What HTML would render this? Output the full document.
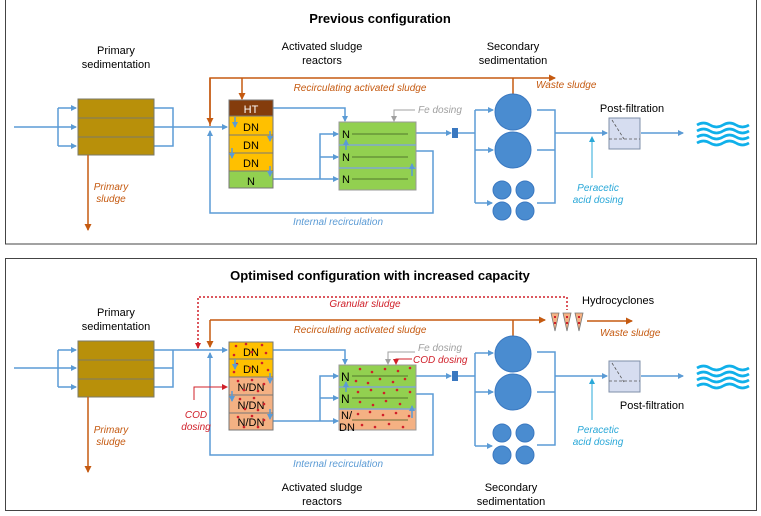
<!DOCTYPE html>
<html><head><meta charset="utf-8"><style>
html,body{margin:0;padding:0;background:#fff;}
svg{display:block;font-family:"Liberation Sans",sans-serif;}
</style></head><body>
<svg width="761" height="516" viewBox="0 0 761 516" xmlns="http://www.w3.org/2000/svg">
<defs>
<marker id="ab" markerWidth="6" markerHeight="6" refX="5" refY="3" orient="auto" markerUnits="userSpaceOnUse"><path d="M0,0 L6,3 L0,6 z" fill="#5b9bd5"/></marker>
<marker id="ao" markerWidth="7" markerHeight="7" refX="6" refY="3.5" orient="auto" markerUnits="userSpaceOnUse"><path d="M0,0 L7,3.5 L0,7 z" fill="#c55a11"/></marker>
<marker id="ar" markerWidth="6" markerHeight="6" refX="5" refY="3" orient="auto" markerUnits="userSpaceOnUse"><path d="M0,0 L6,3 L0,6 z" fill="#d0202a"/></marker>
<marker id="ag" markerWidth="6" markerHeight="6" refX="5" refY="3" orient="auto" markerUnits="userSpaceOnUse"><path d="M0,0 L6,3 L0,6 z" fill="#a0a0a0"/></marker>
<marker id="ac" markerWidth="6" markerHeight="6" refX="5" refY="3" orient="auto" markerUnits="userSpaceOnUse"><path d="M0,0 L6,3 L0,6 z" fill="#2aa8d8"/></marker>
</defs>

<rect x="5.5" y="-2" width="751" height="246" fill="none" stroke="#444" stroke-width="1"/>
<rect x="5.5" y="258.5" width="751" height="252" fill="none" stroke="#444" stroke-width="1"/>

<!-- ================= TOP PANEL ================= -->
<text x="380" y="23" font-size="13" font-weight="bold" text-anchor="middle">Previous configuration</text>
<text x="116" y="54" font-size="11" text-anchor="middle">Primary</text>
<text x="116" y="68" font-size="11" text-anchor="middle">sedimentation</text>
<text x="322" y="50" font-size="11" text-anchor="middle">Activated sludge</text>
<text x="322" y="64" font-size="11" text-anchor="middle">reactors</text>
<text x="513" y="50" font-size="11" text-anchor="middle">Secondary</text>
<text x="513" y="64" font-size="11" text-anchor="middle">sedimentation</text>

<g fill="none" stroke="#5b9bd5" stroke-width="1.5">
<path d="M14 127 H76" marker-end="url(#ab)"/>
<path d="M58 108 V146"/>
<path d="M58 108 H76" marker-end="url(#ab)"/>
<path d="M58 146 H76" marker-end="url(#ab)"/>
<path d="M154 108 H173 V146 H154"/>
<path d="M154 127 H227" marker-end="url(#ab)"/>
<path d="M273 108 H345 V121" marker-end="url(#ab)"/>
<path d="M273 179 H338" marker-end="url(#ab)"/>
<path d="M320 179 V134 H338" marker-end="url(#ab)"/>
<path d="M320 157 H338" marker-end="url(#ab)"/>
<path d="M416 133 H451" marker-end="url(#ab)"/>
<path d="M416 151 H433 V213 H210 V131" marker-end="url(#ab)"/>
<path d="M458 133 H475"/>
<path d="M475 110 V203"/>
<path d="M475 110 H493" marker-end="url(#ab)"/>
<path d="M475 150 H493" marker-end="url(#ab)"/>
<path d="M475 203 H492" marker-end="url(#ab)"/>
<path d="M537 110 H555 V203 H537"/>
<path d="M537 150 H555"/>
<path d="M555 133 H607" marker-end="url(#ab)"/>
<path d="M641 133 H683" marker-end="url(#ab)"/>
</g>
<rect x="452" y="128" width="6" height="10" fill="#3a78c0"/>

<rect x="78" y="99" width="76" height="56" fill="#b8900a" stroke="#7a7a6a"/>
<path d="M78 118 H154 M78 137 H154" stroke="#7a7a6a"/>
<path d="M88 155 V230" stroke="#c55a11" stroke-width="1.5" marker-end="url(#ao)"/>
<text x="111" y="190" font-size="10" font-style="italic" fill="#c55a11" text-anchor="middle">Primary</text>
<text x="111" y="202" font-size="10" font-style="italic" fill="#c55a11" text-anchor="middle">sludge</text>

<rect x="229" y="100" width="44" height="16" fill="#843c0c" stroke="#777"/>
<rect x="229" y="116" width="44" height="55" fill="#ffc000" stroke="#777"/>
<path d="M229 135 H273 M229 153 H273" stroke="#777"/>
<rect x="229" y="171" width="44" height="17" fill="#92d050" stroke="#777"/>
<text x="251" y="113" font-size="11" fill="#fff" text-anchor="middle">HT</text>
<text x="251" y="131" font-size="11" text-anchor="middle">DN</text>
<text x="251" y="149" font-size="11" text-anchor="middle">DN</text>
<text x="251" y="167" font-size="11" text-anchor="middle">DN</text>
<text x="251" y="185" font-size="11" text-anchor="middle">N</text>
<g stroke="#5b9bd5" stroke-width="1.5">
<path d="M235 117 V127" marker-end="url(#ab)"/>
<path d="M270 131 V141" marker-end="url(#ab)"/>
<path d="M232 148 V158" marker-end="url(#ab)"/>
<path d="M270 166 V176" marker-end="url(#ab)"/>
</g>

<rect x="339" y="122" width="77" height="68" fill="#92d050" stroke="#999"/>
<path d="M339 145 H416 M339 168 H416" stroke="#7fa7d0" stroke-width="1.5"/>
<path d="M352 134 H408 M352 157 H408 M352 179 H408" stroke="#3d5a20" stroke-width="0.7"/>
<text x="342" y="138" font-size="11">N</text>
<text x="342" y="161" font-size="11">N</text>
<text x="342" y="183" font-size="11">N</text>
<path d="M346 150 V140" stroke="#5b9bd5" stroke-width="1.5" marker-end="url(#ab)"/>
<path d="M412 176 V164" stroke="#5b9bd5" stroke-width="1.5" marker-end="url(#ab)"/>

<path d="M415 110 H394 V121" fill="none" stroke="#a0a0a0" stroke-width="1" marker-end="url(#ag)"/>
<text x="418" y="113" font-size="10" font-style="italic" fill="#a0a0a0">Fe dosing</text>

<g fill="none" stroke="#c55a11" stroke-width="1.5">
<path d="M210 126 V78 H555" marker-end="url(#ao)"/>
<path d="M210 78 V124" marker-end="url(#ao)"/>
<path d="M242 78 V99" marker-end="url(#ao)"/>
<path d="M513 78 V94"/>
</g>
<text x="360" y="91" font-size="10" font-style="italic" fill="#c55a11" text-anchor="middle">Recirculating activated sludge</text>
<text x="536" y="88" font-size="10" font-style="italic" fill="#c55a11">Waste sludge</text>
<text x="338" y="225" font-size="10" font-style="italic" fill="#5b9bd5" text-anchor="middle">Internal recirculation</text>

<g fill="#4a8cd0" stroke="#3a78c0">
<circle cx="513" cy="112" r="18"/>
<circle cx="513" cy="150" r="18"/>
<circle cx="502" cy="190" r="9"/><circle cx="525" cy="190" r="9"/>
<circle cx="502" cy="211" r="9"/><circle cx="525" cy="211" r="9"/>
</g>

<text x="632" y="112" font-size="11" text-anchor="middle">Post-filtration</text>
<rect x="609" y="118" width="31" height="31" fill="#d6ddf0" stroke="#7f8fa8"/>
<path d="M612 120 L624 139 M609 139 H640" stroke="#555" stroke-dasharray="3,2" stroke-width="0.8"/>
<path d="M592 178 V137" stroke="#2aa8d8" stroke-width="1" marker-end="url(#ac)"/>
<text x="598" y="191" font-size="10" font-style="italic" fill="#2aa8d8" text-anchor="middle">Peracetic</text>
<text x="598" y="203" font-size="10" font-style="italic" fill="#2aa8d8" text-anchor="middle">acid dosing</text>
<g fill="none" stroke="#10b0ea" stroke-width="2.6">
<path d="M697 125 q6.5 -4 13 0 t13 0 t13 0 t13 0"/>
<path d="M697 131 q6.5 -4 13 0 t13 0 t13 0 t13 0"/>
<path d="M697 137 q6.5 -4 13 0 t13 0 t13 0 t13 0"/>
<path d="M697 143 q6.5 -4 13 0 t13 0 t13 0 t13 0"/>
</g>

<!-- ================= BOTTOM PANEL ================= -->
<text x="380" y="280" font-size="13" font-weight="bold" text-anchor="middle">Optimised configuration with increased capacity</text>
<text x="116" y="316" font-size="11" text-anchor="middle">Primary</text>
<text x="116" y="330" font-size="11" text-anchor="middle">sedimentation</text>
<text x="322" y="491" font-size="11" text-anchor="middle">Activated sludge</text>
<text x="322" y="505" font-size="11" text-anchor="middle">reactors</text>
<text x="511" y="491" font-size="11" text-anchor="middle">Secondary</text>
<text x="511" y="505" font-size="11" text-anchor="middle">sedimentation</text>
<text x="582" y="304" font-size="11">Hydrocyclones</text>

<g fill="none" stroke="#5b9bd5" stroke-width="1.5">
<path d="M14 368 H76" marker-end="url(#ab)"/>
<path d="M58 350 V387"/>
<path d="M58 350 H76" marker-end="url(#ab)"/>
<path d="M58 387 H76" marker-end="url(#ab)"/>
<path d="M154 368 H173 V350 M173 368 V387 H154"/>
<path d="M154 350 H227" marker-end="url(#ab)"/>
<path d="M273 350 H345 V364" marker-end="url(#ab)"/>
<path d="M273 421 H338" marker-end="url(#ab)"/>
<path d="M320 421 V376 H338" marker-end="url(#ab)"/>
<path d="M320 398 H338" marker-end="url(#ab)"/>
<path d="M416 376 H451" marker-end="url(#ab)"/>
<path d="M416 394 H433 V455 H210 V353" marker-end="url(#ab)"/>
<path d="M458 376 H475"/>
<path d="M475 353 V446"/>
<path d="M475 353 H493" marker-end="url(#ab)"/>
<path d="M475 392 H493" marker-end="url(#ab)"/>
<path d="M475 446 H492" marker-end="url(#ab)"/>
<path d="M537 352 H555 V445 H537"/>
<path d="M537 392 H555"/>
<path d="M555 376 H607" marker-end="url(#ab)"/>
<path d="M641 376 H683" marker-end="url(#ab)"/>
</g>
<rect x="452" y="371" width="6" height="10" fill="#3a78c0"/>

<rect x="78" y="341" width="76" height="56" fill="#b8900a" stroke="#7a7a6a"/>
<path d="M78 360 H154 M78 379 H154" stroke="#7a7a6a"/>
<path d="M88 397 V472" stroke="#c55a11" stroke-width="1.5" marker-end="url(#ao)"/>
<text x="111" y="433" font-size="10" font-style="italic" fill="#c55a11" text-anchor="middle">Primary</text>
<text x="111" y="445" font-size="10" font-style="italic" fill="#c55a11" text-anchor="middle">sludge</text>

<rect x="229" y="342" width="44" height="35" fill="#ffc000" stroke="#777"/>
<path d="M229 359 H273" stroke="#777"/>
<rect x="229" y="377" width="44" height="53" fill="#f4b183" stroke="#777"/>
<path d="M229 395 H273 M229 413 H273" stroke="#777"/>
<text x="251" y="356" font-size="11" text-anchor="middle">DN</text>
<text x="251" y="373" font-size="11" text-anchor="middle">DN</text>
<text x="251" y="391" font-size="11" text-anchor="middle">N/DN</text>
<text x="251" y="409" font-size="11" text-anchor="middle">N/DN</text>
<text x="251" y="426" font-size="11" text-anchor="middle">N/DN</text>
<g fill="#d0202a">
<circle cx="236" cy="346" r="1.3"/><circle cx="246" cy="344" r="1.3"/><circle cx="262" cy="345" r="1.3"/><circle cx="266" cy="353" r="1.3"/><circle cx="234" cy="355" r="1.3"/><circle cx="252" cy="352" r="1.3"/>
<circle cx="237" cy="364" r="1.3"/><circle cx="262" cy="363" r="1.3"/><circle cx="268" cy="370" r="1.3"/><circle cx="234" cy="372" r="1.3"/><circle cx="250" cy="368" r="1.3"/>
<circle cx="238" cy="381" r="1.3"/><circle cx="252" cy="380" r="1.3"/><circle cx="264" cy="384" r="1.3"/><circle cx="244" cy="390" r="1.3"/><circle cx="258" cy="391" r="1.3"/>
<circle cx="240" cy="399" r="1.3"/><circle cx="254" cy="398" r="1.3"/><circle cx="264" cy="404" r="1.3"/><circle cx="245" cy="409" r="1.3"/><circle cx="258" cy="410" r="1.3"/>
<circle cx="238" cy="417" r="1.3"/><circle cx="252" cy="416" r="1.3"/><circle cx="264" cy="420" r="1.3"/><circle cx="244" cy="427" r="1.3"/><circle cx="258" cy="427" r="1.3"/>
</g>
<g stroke="#5b9bd5" stroke-width="1.5">
<path d="M235 359 V369" marker-end="url(#ab)"/>
<path d="M270 373 V383" marker-end="url(#ab)"/>
<path d="M232 391 V401" marker-end="url(#ab)"/>
<path d="M270 409 V419" marker-end="url(#ab)"/>
</g>

<rect x="339" y="365" width="77" height="44" fill="#92d050" stroke="#999"/>
<rect x="339" y="409" width="77" height="21" fill="#f4b183" stroke="#999"/>
<path d="M339 387 H416 M339 409 H416" stroke="#7fa7d0" stroke-width="1.5"/>
<path d="M352 376 H408 M352 398 H408 M352 420 H408" stroke="#3d5a20" stroke-width="0.7"/>
<text x="341" y="381" font-size="12">N</text>
<text x="341" y="403" font-size="12">N</text>
<text x="341" y="419" font-size="11">N/</text>
<text x="339" y="431" font-size="11">DN</text>
<g fill="#d0202a">
<circle cx="360" cy="369" r="1.3"/><circle cx="372" cy="372" r="1.3"/><circle cx="385" cy="369" r="1.3"/><circle cx="398" cy="371" r="1.3"/><circle cx="410" cy="368" r="1.3"/>
<circle cx="356" cy="381" r="1.3"/><circle cx="368" cy="383" r="1.3"/><circle cx="380" cy="379" r="1.3"/><circle cx="393" cy="382" r="1.3"/><circle cx="405" cy="379" r="1.3"/>
<circle cx="358" cy="392" r="1.3"/><circle cx="371" cy="390" r="1.3"/><circle cx="384" cy="393" r="1.3"/><circle cx="397" cy="390" r="1.3"/><circle cx="410" cy="392" r="1.3"/>
<circle cx="360" cy="402" r="1.3"/><circle cx="373" cy="405" r="1.3"/><circle cx="386" cy="401" r="1.3"/><circle cx="400" cy="404" r="1.3"/>
<circle cx="358" cy="414" r="1.3"/><circle cx="370" cy="412" r="1.3"/><circle cx="383" cy="415" r="1.3"/><circle cx="396" cy="413" r="1.3"/><circle cx="409" cy="416" r="1.3"/>
<circle cx="362" cy="425" r="1.3"/><circle cx="375" cy="427" r="1.3"/><circle cx="389" cy="424" r="1.3"/><circle cx="403" cy="427" r="1.3"/>
</g>
<path d="M346 392 V382" stroke="#5b9bd5" stroke-width="1.5" marker-end="url(#ab)"/>
<path d="M412 418 V406" stroke="#5b9bd5" stroke-width="1.5" marker-end="url(#ab)"/>

<path d="M415 352 H388 V364" fill="none" stroke="#a0a0a0" stroke-width="1" marker-end="url(#ag)"/>
<text x="418" y="351" font-size="10" font-style="italic" fill="#a0a0a0">Fe dosing</text>
<path d="M412 359 H396 V364" fill="none" stroke="#d0202a" stroke-width="1" marker-end="url(#ar)"/>
<text x="413" y="363" font-size="10" font-style="italic" fill="#d0202a">COD dosing</text>
<path d="M194 400 V387 H227" fill="none" stroke="#d0202a" stroke-width="1" marker-end="url(#ar)"/>
<text x="196" y="418" font-size="10" font-style="italic" fill="#d0202a" text-anchor="middle">COD</text>
<text x="196" y="430" font-size="10" font-style="italic" fill="#d0202a" text-anchor="middle">dosing</text>

<path d="M198 348 V297 H567 V310" fill="none" stroke="#d0202a" stroke-width="1.5" stroke-dasharray="2,2"/>
<path d="M198 342 V348" stroke="#d0202a" stroke-width="1.5" marker-end="url(#ar)"/>
<text x="365" y="307" font-size="10" font-style="italic" fill="#d0202a" text-anchor="middle">Granular sludge</text>

<g fill="none" stroke="#c55a11" stroke-width="1.5">
<path d="M210 320 H545" marker-end="url(#ao)"/>
<path d="M210 320 V347" marker-end="url(#ao)"/>
<path d="M513 320 V336"/>
<path d="M587 321 H632" marker-end="url(#ao)"/>
</g>
<text x="360" y="333" font-size="10" font-style="italic" fill="#c55a11" text-anchor="middle">Recirculating activated sludge</text>
<text x="600" y="336" font-size="10" font-style="italic" fill="#c55a11">Waste sludge</text>
<text x="338" y="467" font-size="10" font-style="italic" fill="#5b9bd5" text-anchor="middle">Internal recirculation</text>

<g fill="#f4b183" stroke="#777" stroke-width="0.8">
<path d="M551 313 H559 L555 331 Z"/>
<path d="M563 313 H571 L567 331 Z"/>
<path d="M575 313 H583 L579 331 Z"/>
</g>
<g fill="#d0202a">
<rect x="554" y="316" width="2" height="2"/><rect x="554" y="322" width="2" height="2"/>
<rect x="566" y="316" width="2" height="2"/><rect x="566" y="322" width="2" height="2"/>
<rect x="578" y="316" width="2" height="2"/><rect x="578" y="322" width="2" height="2"/>
</g>

<g fill="#4a8cd0" stroke="#3a78c0">
<circle cx="513" cy="354" r="18"/>
<circle cx="513" cy="392" r="18"/>
<circle cx="502" cy="433" r="9"/><circle cx="525" cy="433" r="9"/>
<circle cx="502" cy="455" r="9"/><circle cx="525" cy="455" r="9"/>
</g>

<rect x="609" y="361" width="31" height="31" fill="#d6ddf0" stroke="#7f8fa8"/>
<path d="M612 363 L624 382 M609 381 H640" stroke="#555" stroke-dasharray="3,2" stroke-width="0.8"/>
<text x="652" y="409" font-size="11" text-anchor="middle">Post-filtration</text>
<path d="M592 420 V379" stroke="#2aa8d8" stroke-width="1" marker-end="url(#ac)"/>
<text x="598" y="433" font-size="10" font-style="italic" fill="#2aa8d8" text-anchor="middle">Peracetic</text>
<text x="598" y="445" font-size="10" font-style="italic" fill="#2aa8d8" text-anchor="middle">acid dosing</text>
<g fill="none" stroke="#10b0ea" stroke-width="2.6">
<path d="M697 368 q6.5 -4 13 0 t13 0 t13 0 t13 0"/>
<path d="M697 374 q6.5 -4 13 0 t13 0 t13 0 t13 0"/>
<path d="M697 380 q6.5 -4 13 0 t13 0 t13 0 t13 0"/>
<path d="M697 386 q6.5 -4 13 0 t13 0 t13 0 t13 0"/>
</g>
</svg>
</body></html>
